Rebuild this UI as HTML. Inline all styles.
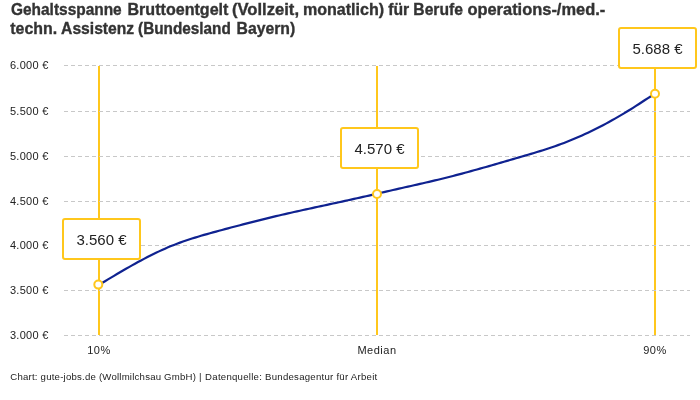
<!DOCTYPE html>
<html><head><meta charset="utf-8">
<style>
html,body{margin:0;padding:0;background:#fff;width:700px;height:400px;overflow:hidden}
body{font-family:"Liberation Sans",sans-serif;position:relative}
#wrap{position:absolute;left:0;top:0;width:700px;height:400px;will-change:transform}
.t{font-weight:bold;font-size:16px;fill:#333;stroke:#333;stroke-width:0.35px}
.ft{font-size:9.6px;fill:#222;}
svg{position:absolute;left:0;top:0}
.g{stroke:#c8c8c8;stroke-width:1;stroke-dasharray:4 3}
.yl{font-size:11px;fill:#222;text-anchor:end;letter-spacing:0.3px}
.xl{font-size:11px;fill:#222;text-anchor:middle;letter-spacing:0.5px}
.v{stroke:#ffc71c;stroke-width:2}
.box{fill:#fff;stroke:#ffc71c;stroke-width:2}
.bl{font-size:15px;fill:#222;text-anchor:middle}
.dot{fill:#fff;stroke:#ffc71c;stroke-width:2}
</style></head><body><div id="wrap">
<svg width="700" height="400" viewBox="0 0 700 400">
<text x="11.00" y="14.8" class="t" textLength="110.68" lengthAdjust="spacingAndGlyphs">Gehaltsspanne</text>
<text x="127.49" y="14.8" class="t" textLength="100.94" lengthAdjust="spacingAndGlyphs">Bruttoentgelt</text>
<text x="231.96" y="14.8" class="t" textLength="67.05" lengthAdjust="spacingAndGlyphs">(Vollzeit,</text>
<text x="302.90" y="14.8" class="t" textLength="81.20" lengthAdjust="spacingAndGlyphs">monatlich)</text>
<text x="388.20" y="14.8" class="t" textLength="21.02" lengthAdjust="spacingAndGlyphs">für</text>
<text x="413.32" y="14.8" class="t" textLength="49.65" lengthAdjust="spacingAndGlyphs">Berufe</text>
<text x="467.40" y="14.8" class="t" textLength="137.84" lengthAdjust="spacingAndGlyphs">operations-/med.-</text>
<text x="10.30" y="33.5" class="t" textLength="46.82" lengthAdjust="spacingAndGlyphs">techn.</text>
<text x="61.10" y="33.5" class="t" textLength="73.09" lengthAdjust="spacingAndGlyphs">Assistenz</text>
<text x="138.04" y="33.5" class="t" textLength="92.81" lengthAdjust="spacingAndGlyphs">(Bundesland</text>
<text x="236.52" y="33.5" class="t" textLength="58.65" lengthAdjust="spacingAndGlyphs">Bayern)</text>
<text x="10.3" y="379.7" class="ft" textLength="191.2" lengthAdjust="spacing">Chart: gute-jobs.de (Wollmilchsau GmbH) |</text><text x="205.1" y="379.7" class="ft" textLength="172.1" lengthAdjust="spacing">Datenquelle: Bundesagentur für Arbeit</text>
<line x1="99" y1="66" x2="99" y2="335" class="v"/>
<line x1="377" y1="66" x2="377" y2="335" class="v"/>
<line x1="655" y1="66" x2="655" y2="335" class="v"/>
<line x1="64" y1="65.5" x2="690" y2="65.5" class="g"/>
<line x1="64" y1="111.5" x2="690" y2="111.5" class="g"/>
<line x1="64" y1="156.5" x2="690" y2="156.5" class="g"/>
<line x1="64" y1="201.5" x2="690" y2="201.5" class="g"/>
<line x1="64" y1="245.5" x2="690" y2="245.5" class="g"/>
<line x1="64" y1="290.5" x2="690" y2="290.5" class="g"/>
<line x1="64" y1="335.5" x2="690" y2="335.5" class="g"/>
<text x="48.7" y="69" class="yl">6.000 €</text>
<text x="48.7" y="115" class="yl">5.500 €</text>
<text x="48.7" y="160" class="yl">5.000 €</text>
<text x="48.7" y="205" class="yl">4.500 €</text>
<text x="48.7" y="249" class="yl">4.000 €</text>
<text x="48.7" y="294" class="yl">3.500 €</text>
<text x="48.7" y="339" class="yl">3.000 €</text>
<path d="M99.0,284.78 L102.0,282.99 L105.0,281.19 L108.0,279.40 L111.0,277.62 L114.0,275.84 L117.0,274.06 L120.0,272.30 L123.0,270.55 L126.0,268.82 L129.0,267.11 L132.0,265.41 L135.0,263.74 L138.0,262.08 L141.0,260.46 L144.0,258.86 L147.0,257.29 L150.0,255.76 L153.0,254.26 L156.0,252.80 L159.0,251.37 L162.0,249.99 L165.0,248.64 L168.0,247.35 L171.0,246.10 L174.0,244.90 L177.0,243.74 L180.0,242.63 L183.0,241.56 L186.0,240.52 L189.0,239.52 L192.0,238.55 L195.0,237.61 L198.0,236.69 L201.0,235.80 L204.0,234.92 L207.0,234.07 L210.0,233.23 L213.0,232.40 L216.0,231.58 L219.0,230.77 L222.0,229.97 L225.0,229.16 L228.0,228.36 L231.0,227.56 L234.0,226.77 L237.0,225.98 L240.0,225.20 L243.0,224.42 L246.0,223.64 L249.0,222.87 L252.0,222.11 L255.0,221.35 L258.0,220.59 L261.0,219.84 L264.0,219.10 L267.0,218.36 L270.0,217.63 L273.0,216.91 L276.0,216.19 L279.0,215.48 L282.0,214.78 L285.0,214.09 L288.0,213.40 L291.0,212.71 L294.0,212.04 L297.0,211.36 L300.0,210.70 L303.0,210.03 L306.0,209.37 L309.0,208.72 L312.0,208.06 L315.0,207.41 L318.0,206.76 L321.0,206.11 L324.0,205.47 L327.0,204.82 L330.0,204.17 L333.0,203.53 L336.0,202.88 L339.0,202.23 L342.0,201.58 L345.0,200.92 L348.0,200.27 L351.0,199.61 L354.0,198.94 L357.0,198.28 L360.0,197.60 L363.0,196.93 L366.0,196.25 L369.0,195.56 L372.0,194.87 L375.0,194.18 L378.0,193.49 L381.0,192.80 L384.0,192.10 L387.0,191.41 L390.0,190.72 L393.0,190.03 L396.0,189.34 L399.0,188.65 L402.0,187.97 L405.0,187.30 L408.0,186.62 L411.0,185.95 L414.0,185.27 L417.0,184.60 L420.0,183.92 L423.0,183.23 L426.0,182.55 L429.0,181.85 L432.0,181.15 L435.0,180.44 L438.0,179.72 L441.0,179.00 L444.0,178.25 L447.0,177.50 L450.0,176.74 L453.0,175.97 L456.0,175.18 L459.0,174.39 L462.0,173.59 L465.0,172.78 L468.0,171.97 L471.0,171.14 L474.0,170.31 L477.0,169.48 L480.0,168.64 L483.0,167.79 L486.0,166.94 L489.0,166.08 L492.0,165.22 L495.0,164.35 L498.0,163.48 L501.0,162.61 L504.0,161.74 L507.0,160.87 L510.0,159.99 L513.0,159.12 L516.0,158.24 L519.0,157.36 L522.0,156.49 L525.0,155.61 L528.0,154.73 L531.0,153.85 L534.0,152.95 L537.0,152.04 L540.0,151.12 L543.0,150.19 L546.0,149.23 L549.0,148.25 L552.0,147.25 L555.0,146.22 L558.0,145.16 L561.0,144.06 L564.0,142.94 L567.0,141.78 L570.0,140.58 L573.0,139.35 L576.0,138.09 L579.0,136.79 L582.0,135.46 L585.0,134.10 L588.0,132.70 L591.0,131.27 L594.0,129.80 L597.0,128.30 L600.0,126.77 L603.0,125.21 L606.0,123.61 L609.0,121.98 L612.0,120.31 L615.0,118.62 L618.0,116.89 L621.0,115.14 L624.0,113.35 L627.0,111.53 L630.0,109.69 L633.0,107.81 L636.0,105.91 L639.0,103.97 L642.0,102.01 L645.0,100.04 L648.0,98.10 L651.0,96.20 L654.0,94.38 L655.0,93.79" fill="none" stroke="#0f2290" stroke-width="2.2" stroke-linecap="round" stroke-linejoin="round"/>
<rect x="63" y="219" width="77" height="40" rx="2" class="box"/>
<text x="101.5" y="245" class="bl">3.560 €</text>
<rect x="341" y="128" width="77" height="40" rx="2" class="box"/>
<text x="379.5" y="154" class="bl">4.570 €</text>
<rect x="619" y="28" width="77" height="40" rx="2" class="box"/>
<text x="657.5" y="54" class="bl">5.688 €</text>
<circle cx="98.3" cy="284.6" r="4" class="dot"/>
<circle cx="377" cy="194" r="4" class="dot"/>
<circle cx="655" cy="93.7" r="4" class="dot"/>
<text x="99" y="354" class="xl">10%</text>
<text x="377" y="354" class="xl">Median</text>
<text x="655" y="354" class="xl">90%</text>
</svg>
</div></body></html>
